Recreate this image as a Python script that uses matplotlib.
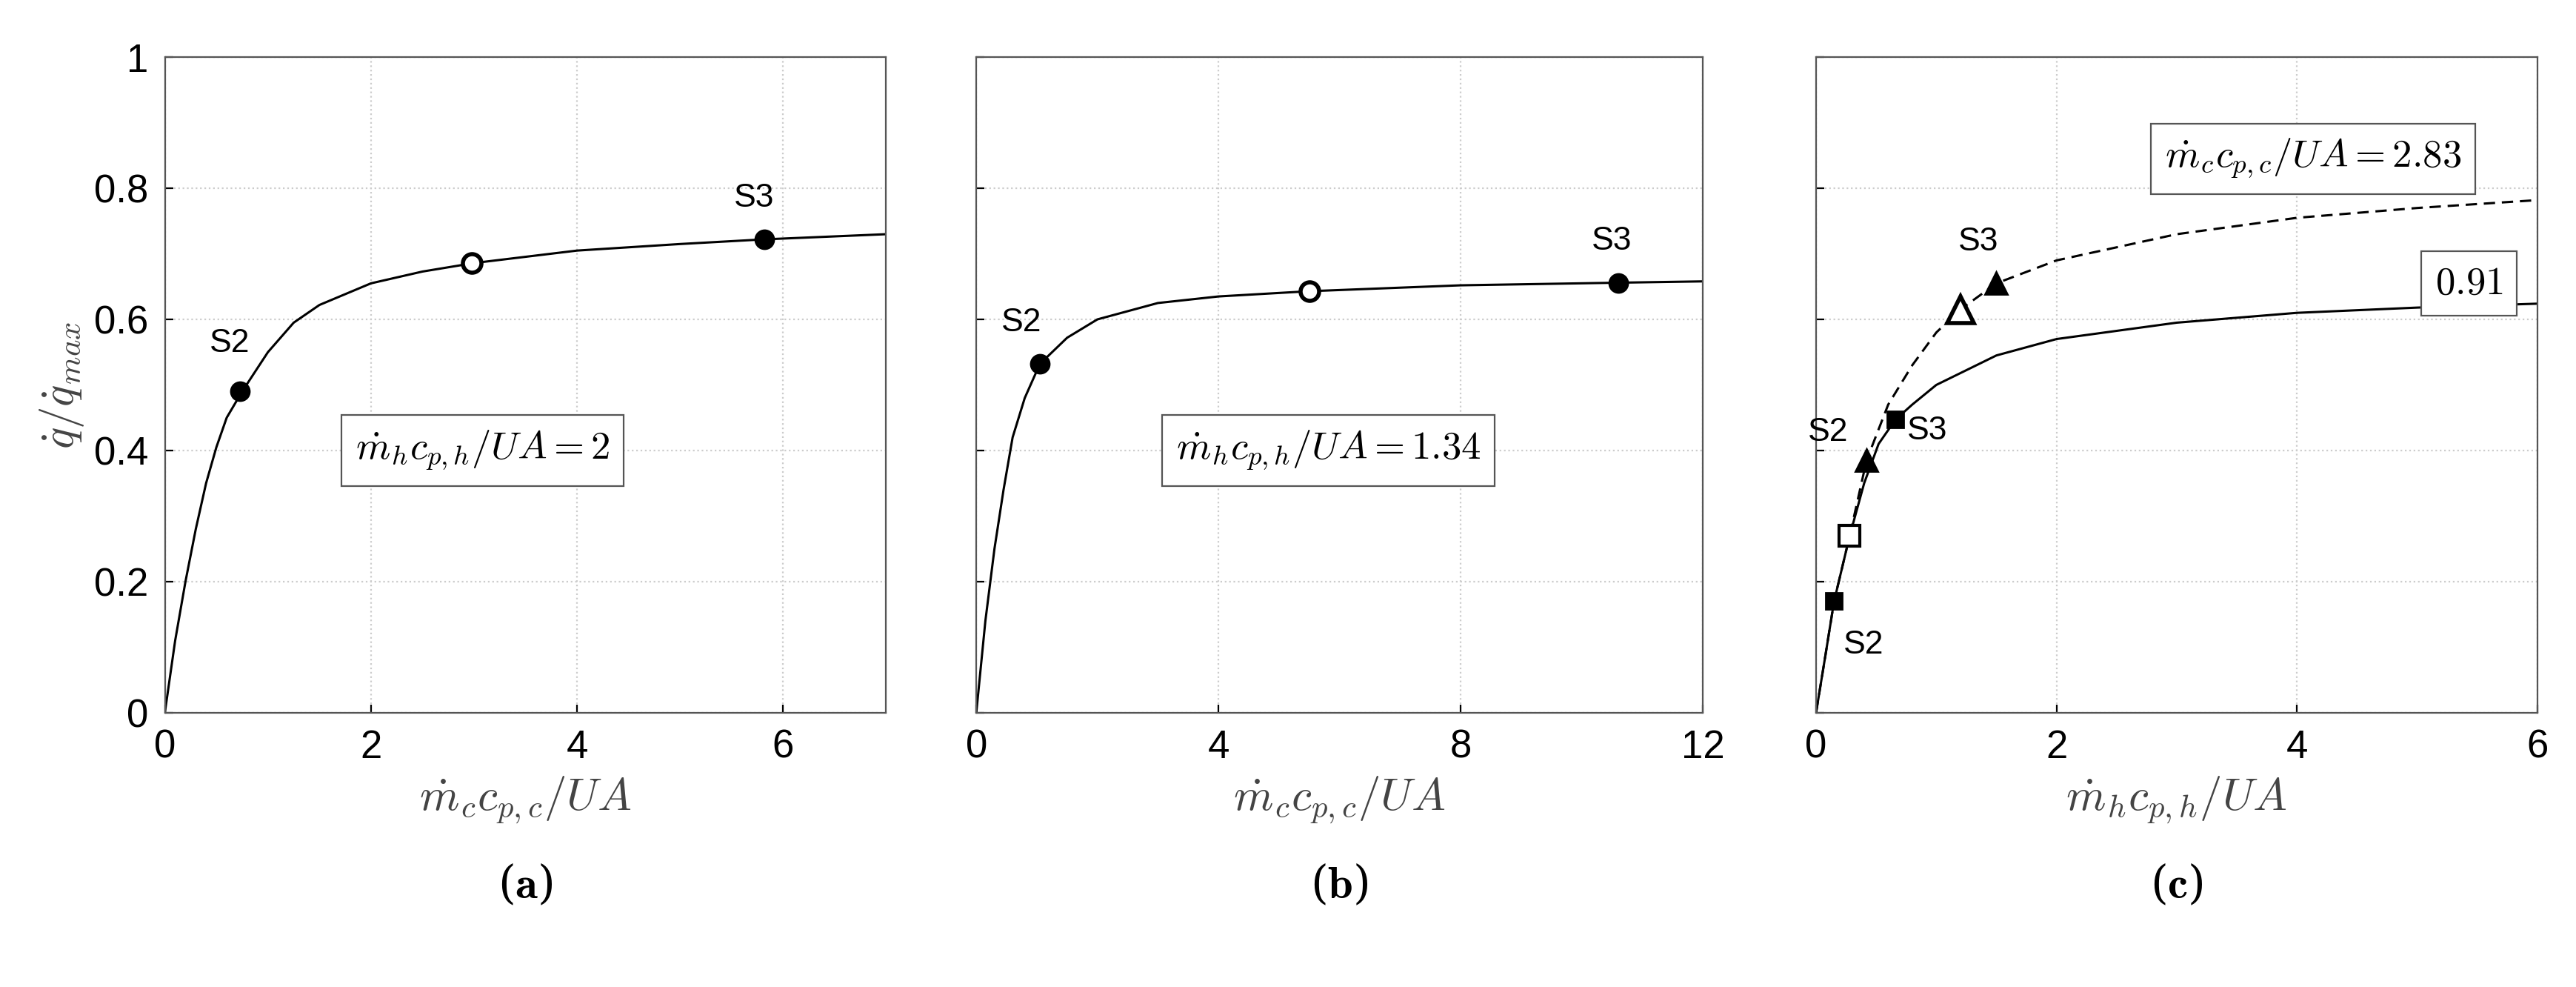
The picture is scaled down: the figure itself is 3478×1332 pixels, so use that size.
import matplotlib
matplotlib.use('Agg')
import matplotlib.pyplot as plt

plt.rcParams['mathtext.fontset'] = 'cm'
plt.rcParams['font.family'] = ['Liberation Sans', 'DejaVu Sans']

# panel (a): q/qmax against m_c c_p,c / UA
a_x = [0, 0.1, 0.2, 0.3, 0.4, 0.5, 0.6, 0.75, 1.0, 1.25, 1.5, 2.0, 2.5, 3.0, 4.0, 5.0, 5.8, 7.0]
a_y = [0, 0.11, 0.2, 0.28, 0.35, 0.405, 0.45, 0.49, 0.55, 0.595, 0.622, 0.655, 0.673, 0.686, 0.705, 0.715, 0.722, 0.73]
a_pts_x = [0.73, 2.98, 5.82]
a_pts_y = [0.49, 0.686, 0.722]

# panel (b)
b_x = [0, 0.15, 0.3, 0.45, 0.6, 0.8, 1.05, 1.5, 2.0, 3.0, 4.0, 5.5, 8.0, 10.6, 12.0]
b_y = [0, 0.14, 0.25, 0.34, 0.42, 0.48, 0.532, 0.572, 0.6, 0.625, 0.635, 0.643, 0.652, 0.656, 0.658]
b_pts_x = [1.05, 5.5, 10.6]
b_pts_y = [0.532, 0.643, 0.656]

# panel (c): solid = 0.91, dashed = 2.83
c1_x = [0, 0.08, 0.15, 0.28, 0.4, 0.52, 0.66, 0.8, 1.0, 1.5, 2.0, 3.0, 4.0, 5.0, 6.0]
c1_y = [0, 0.09, 0.17, 0.27, 0.35, 0.41, 0.447, 0.47, 0.5, 0.545, 0.57, 0.595, 0.61, 0.618, 0.624]
c2_x = [0, 0.08, 0.15, 0.28, 0.42, 0.6, 0.8, 1.0, 1.2, 1.5, 2.0, 3.0, 4.0, 5.0, 6.0]
c2_y = [0, 0.09, 0.17, 0.27, 0.385, 0.47, 0.53, 0.58, 0.615, 0.655, 0.69, 0.73, 0.755, 0.77, 0.782]
c1_pts_x = [0.15, 0.28, 0.66]
c1_pts_y = [0.17, 0.27, 0.447]
c2_pts_x = [0.42, 1.2, 1.5]
c2_pts_y = [0.385, 0.615, 0.655]

fig = plt.figure(figsize=(17.39, 6.66), dpi=200)
ax_a = fig.add_axes([0.064, 0.278, 0.28, 0.664])
ax_b = fig.add_axes([0.379, 0.278, 0.282, 0.664])
ax_c = fig.add_axes([0.705, 0.278, 0.28, 0.664])

def style(ax, xmax, xticks):
    ax.set_xlim(0, xmax)
    ax.set_ylim(0, 1)
    ax.set_xticks(xticks)
    ax.set_yticks([0, 0.2, 0.4, 0.6, 0.8, 1])
    ax.grid(True, color='#cccccc', linestyle=':', linewidth=0.8)
    ax.tick_params(labelsize=19, direction='in', length=4, pad=8)
    for s in ax.spines.values():
        s.set_color('#555555')

box = dict(boxstyle='square,pad=0.35', fc='white', ec='#555555', lw=0.8)
fs = 19

style(ax_a, 7, [0, 2, 4, 6])
ax_a.set_yticklabels(['0', '0.2', '0.4', '0.6', '0.8', '1'])
ax_a.plot(a_x, a_y, 'k-', lw=1.1)
ax_a.plot(a_pts_x[0], a_pts_y[0], 'ko', ms=9)
ax_a.plot(a_pts_x[1], a_pts_y[1], 'o', mfc='white', mec='k', mew=2, ms=9)
ax_a.plot(a_pts_x[2], a_pts_y[2], 'ko', ms=9)
ax_a.text(a_pts_x[0] - 0.1, a_pts_y[0] + 0.06, 'S2', fontsize=16, ha='center')
ax_a.text(a_pts_x[2] - 0.1, a_pts_y[2] + 0.05, 'S3', fontsize=16, ha='center')
ax_a.text(1.85, 0.4, r'$\dot m_h c_{p,h}/UA = 2$', fontsize=fs, va='center', bbox=box)
ax_a.set_ylabel(r'$\dot q/\dot q_{max}$', fontsize=22, color='#444444')
ax_a.set_xlabel(r'$\dot m_c c_{p,c}/UA$', fontsize=22, color='#444444')

style(ax_b, 12, [0, 4, 8, 12])
ax_b.set_yticklabels([])
ax_b.plot(b_x, b_y, 'k-', lw=1.1)
ax_b.plot(b_pts_x[0], b_pts_y[0], 'ko', ms=9)
ax_b.plot(b_pts_x[1], b_pts_y[1], 'o', mfc='white', mec='k', mew=2, ms=9)
ax_b.plot(b_pts_x[2], b_pts_y[2], 'ko', ms=9)
ax_b.text(b_pts_x[0] - 0.3, b_pts_y[0] + 0.05, 'S2', fontsize=16, ha='center')
ax_b.text(b_pts_x[2] - 0.1, b_pts_y[2] + 0.05, 'S3', fontsize=16, ha='center')
ax_b.text(3.3, 0.4, r'$\dot m_h c_{p,h}/UA = 1.34$', fontsize=fs, va='center', bbox=box)
ax_b.set_xlabel(r'$\dot m_c c_{p,c}/UA$', fontsize=22, color='#444444')

style(ax_c, 6, [0, 2, 4, 6])
ax_c.set_yticklabels([])
ax_c.plot(c1_x, c1_y, 'k-', lw=1.1)
ax_c.plot(c2_x, c2_y, 'k--', lw=1.1, dashes=(5, 3))
ax_c.plot([c1_pts_x[0], c1_pts_x[2]], [c1_pts_y[0], c1_pts_y[2]], 'ks', ms=8, ls='none')
ax_c.plot(c1_pts_x[1], c1_pts_y[1], 's', mfc='white', mec='k', mew=1.5, ms=10)
ax_c.plot([c2_pts_x[0], c2_pts_x[2]], [c2_pts_y[0], c2_pts_y[2]], 'k^', ms=11, ls='none')
ax_c.plot(c2_pts_x[1], c2_pts_y[1], '^', mfc='white', mec='k', mew=2, ms=13)
ax_c.text(c1_pts_x[0] + 0.08, c1_pts_y[0] - 0.08, 'S2', fontsize=16)
ax_c.text(c1_pts_x[2] + 0.1, c1_pts_y[2] - 0.03, 'S3', fontsize=16)
ax_c.text(c2_pts_x[0] - 0.15, c2_pts_y[0] + 0.03, 'S2', fontsize=16, ha='right')
ax_c.text(c2_pts_x[2] - 0.15, c2_pts_y[2] + 0.05, 'S3', fontsize=16, ha='center')
ax_c.text(2.9, 0.845, r'$\dot m_c c_{p,c}/UA = 2.83$', fontsize=fs, va='center', bbox=box)
ax_c.text(5.15, 0.655, r'$0.91$', fontsize=fs, va='center', bbox=box)
ax_c.set_xlabel(r'$\dot m_h c_{p,h}/UA$', fontsize=22, color='#444444')

for ax, lab in [(ax_a, 'a'), (ax_b, 'b'), (ax_c, 'c')]:
    pos = ax.get_position()
    fig.text((pos.x0 + pos.x1) / 2, 0.09, '(' + r'$\mathbf{' + lab + '}$' + ')',
             fontsize=22, ha='center', family='DejaVu Serif')

fig.savefig('out.png', dpi=200)
